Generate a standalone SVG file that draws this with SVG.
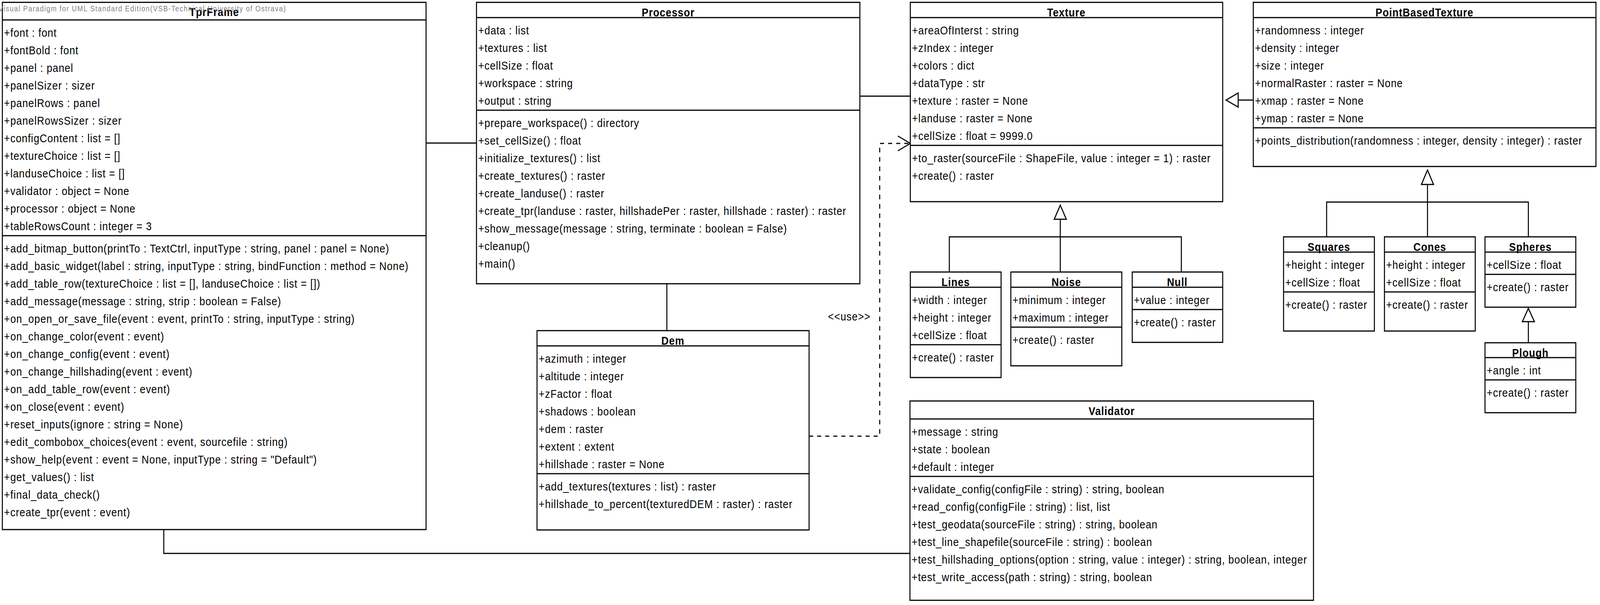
<svg xmlns="http://www.w3.org/2000/svg" width="4758" height="1548" viewBox="0 0 4758 1548" preserveAspectRatio="none">
<style>
svg{width:100vw;height:100vh}
.box{fill:#fff;stroke:#000;stroke-width:3}
.sep{stroke:#000;stroke-width:3}
.ln{fill:none;stroke:#000;stroke-width:3}
.dash{fill:none;stroke:#000;stroke-width:3;stroke-dasharray:12 12}
.tri{fill:#fff;stroke:#000;stroke-width:3;stroke-linejoin:miter}
text{font-family:"Liberation Sans",Arial,sans-serif;font-size:30px;letter-spacing:1.2px;fill:#000}
.ttl{font-weight:bold;text-anchor:middle}
.wm{font-size:20px;letter-spacing:1.9px;fill:#808080}
</style>
<rect x="0" y="0" width="4758" height="1548" fill="#fff"/>

<g id="connectors">
  <polyline class="ln" points="1267,366 1417,366"/>
  <polyline class="ln" points="2557,246 2707,246"/>
  <polyline class="ln" points="1983,726 1983,846"/>
  <polyline class="ln" points="487,1355 487,1416 2706,1416"/>
  <polyline class="dash" points="2406,1116 2616,1116 2616,367 2704,367"/>
  <polyline class="ln" points="2670,348 2707,367 2670,386"/>
  <text x="2462" y="820">&lt;&lt;use&gt;&gt;</text>
  <polyline class="ln" points="3727,256 3682,256"/>
  <polygon class="tri" points="3646,256 3682,238 3682,274"/>
  <polyline class="ln" points="3153,561 3153,696"/>
  <polyline class="ln" points="2823,696 2823,606 3513,606 3513,696"/>
  <polygon class="tri" points="3153,525 3135,561 3171,561"/>
  <polyline class="ln" points="4245,472 4245,606"/>
  <polyline class="ln" points="3945,606 3945,517 4545,517 4545,606"/>
  <polygon class="tri" points="4245,435 4227,472 4263,472"/>
  <polyline class="ln" points="4545,823 4545,877"/>
  <polygon class="tri" points="4545,789 4527,823 4563,823"/>
</g>

<g id="TprFrame">
  <rect class="box" x="7" y="6" width="1260" height="1349"/>
  <line class="sep" x1="7" y1="51" x2="1267" y2="51"/>
  <line class="sep" x1="7" y1="603" x2="1267" y2="603"/>
  <text class="ttl" x="637" y="41">TprFrame</text>
  <text x="12" y="94">+font : font</text>
  <text x="12" y="139">+fontBold : font</text>
  <text x="12" y="184">+panel : panel</text>
  <text x="12" y="229">+panelSizer : sizer</text>
  <text x="12" y="274">+panelRows : panel</text>
  <text x="12" y="319">+panelRowsSizer : sizer</text>
  <text x="12" y="364">+configContent : list = []</text>
  <text x="12" y="409">+textureChoice : list = []</text>
  <text x="12" y="454">+landuseChoice : list = []</text>
  <text x="12" y="499">+validator : object = None</text>
  <text x="12" y="544">+processor : object = None</text>
  <text x="12" y="589">+tableRowsCount : integer = 3</text>
  <text x="12" y="646">+add_bitmap_button(printTo : TextCtrl, inputType : string, panel : panel = None)</text>
  <text x="12" y="691">+add_basic_widget(label : string, inputType : string, bindFunction : method = None)</text>
  <text x="12" y="736">+add_table_row(textureChoice : list = [], landuseChoice : list = [])</text>
  <text x="12" y="781">+add_message(message : string, strip : boolean = False)</text>
  <text x="12" y="826">+on_open_or_save_file(event : event, printTo : string, inputType : string)</text>
  <text x="12" y="871">+on_change_color(event : event)</text>
  <text x="12" y="916">+on_change_config(event : event)</text>
  <text x="12" y="961">+on_change_hillshading(event : event)</text>
  <text x="12" y="1006">+on_add_table_row(event : event)</text>
  <text x="12" y="1051">+on_close(event : event)</text>
  <text x="12" y="1096">+reset_inputs(ignore : string = None)</text>
  <text x="12" y="1141">+edit_combobox_choices(event : event, sourcefile : string)</text>
  <text x="12" y="1186">+show_help(event : event = None, inputType : string = "Default")</text>
  <text x="12" y="1231">+get_values() : list</text>
  <text x="12" y="1276">+final_data_check()</text>
  <text x="12" y="1321">+create_tpr(event : event)</text>
</g>

<g id="Processor">
  <rect class="box" x="1417" y="6" width="1140" height="720"/>
  <line class="sep" x1="1417" y1="45" x2="2557" y2="45"/>
  <line class="sep" x1="1417" y1="282" x2="2557" y2="282"/>
  <text class="ttl" x="1987" y="42">Processor</text>
  <text x="1422" y="88">+data : list</text>
  <text x="1422" y="133">+textures : list</text>
  <text x="1422" y="178">+cellSize : float</text>
  <text x="1422" y="223">+workspace : string</text>
  <text x="1422" y="268">+output : string</text>
  <text x="1422" y="325">+prepare_workspace() : directory</text>
  <text x="1422" y="370">+set_cellSize() : float</text>
  <text x="1422" y="415">+initialize_textures() : list</text>
  <text x="1422" y="460">+create_textures() : raster</text>
  <text x="1422" y="505">+create_landuse() : raster</text>
  <text x="1422" y="550">+create_tpr(landuse : raster, hillshadePer : raster, hillshade : raster) : raster</text>
  <text x="1422" y="595">+show_message(message : string, terminate : boolean = False)</text>
  <text x="1422" y="640">+cleanup()</text>
  <text x="1422" y="685">+main()</text>
</g>

<g id="Dem">
  <rect class="box" x="1597" y="846" width="809" height="510"/>
  <line class="sep" x1="1597" y1="885" x2="2406" y2="885"/>
  <line class="sep" x1="1597" y1="1212" x2="2406" y2="1212"/>
  <text class="ttl" x="2001" y="882">Dem</text>
  <text x="1602" y="928">+azimuth : integer</text>
  <text x="1602" y="973">+altitude : integer</text>
  <text x="1602" y="1018">+zFactor : float</text>
  <text x="1602" y="1063">+shadows : boolean</text>
  <text x="1602" y="1108">+dem : raster</text>
  <text x="1602" y="1153">+extent : extent</text>
  <text x="1602" y="1198">+hillshade : raster = None</text>
  <text x="1602" y="1255">+add_textures(textures : list) : raster</text>
  <text x="1602" y="1300">+hillshade_to_percent(texturedDEM : raster) : raster</text>
</g>

<g id="Texture">
  <rect class="box" x="2707" y="6" width="929" height="510"/>
  <line class="sep" x1="2707" y1="45" x2="3636" y2="45"/>
  <line class="sep" x1="2707" y1="372" x2="3636" y2="372"/>
  <text class="ttl" x="3171" y="42">Texture</text>
  <text x="2712" y="88">+areaOfInterst : string</text>
  <text x="2712" y="133">+zIndex : integer</text>
  <text x="2712" y="178">+colors : dict</text>
  <text x="2712" y="223">+dataType : str</text>
  <text x="2712" y="268">+texture : raster = None</text>
  <text x="2712" y="313">+landuse : raster = None</text>
  <text x="2712" y="358">+cellSize : float = 9999.0</text>
  <text x="2712" y="415">+to_raster(sourceFile : ShapeFile, value : integer = 1) : raster</text>
  <text x="2712" y="460">+create() : raster</text>
</g>

<g id="PointBasedTexture">
  <rect class="box" x="3727" y="6" width="1019" height="420"/>
  <line class="sep" x1="3727" y1="45" x2="4746" y2="45"/>
  <line class="sep" x1="3727" y1="327" x2="4746" y2="327"/>
  <text class="ttl" x="4236" y="42">PointBasedTexture</text>
  <text x="3732" y="88">+randomness : integer</text>
  <text x="3732" y="133">+density : integer</text>
  <text x="3732" y="178">+size : integer</text>
  <text x="3732" y="223">+normalRaster : raster = None</text>
  <text x="3732" y="268">+xmap : raster = None</text>
  <text x="3732" y="313">+ymap : raster = None</text>
  <text x="3732" y="370">+points_distribution(randomness : integer, density : integer) : raster</text>
</g>

<g id="Lines">
  <rect class="box" x="2707" y="696" width="270" height="270"/>
  <line class="sep" x1="2707" y1="735" x2="2977" y2="735"/>
  <line class="sep" x1="2707" y1="882" x2="2977" y2="882"/>
  <text class="ttl" x="2842" y="732">Lines</text>
  <text x="2712" y="778">+width : integer</text>
  <text x="2712" y="823">+height : integer</text>
  <text x="2712" y="868">+cellSize : float</text>
  <text x="2712" y="925">+create() : raster</text>
</g>

<g id="Noise">
  <rect class="box" x="3006" y="696" width="330" height="240"/>
  <line class="sep" x1="3006" y1="735" x2="3336" y2="735"/>
  <line class="sep" x1="3006" y1="837" x2="3336" y2="837"/>
  <text class="ttl" x="3171" y="732">Noise</text>
  <text x="3011" y="778">+minimum : integer</text>
  <text x="3011" y="823">+maximum : integer</text>
  <text x="3011" y="880">+create() : raster</text>
</g>

<g id="Null">
  <rect class="box" x="3367" y="696" width="269" height="180"/>
  <line class="sep" x1="3367" y1="735" x2="3636" y2="735"/>
  <line class="sep" x1="3367" y1="792" x2="3636" y2="792"/>
  <text class="ttl" x="3501" y="732">Null</text>
  <text x="3372" y="778">+value : integer</text>
  <text x="3372" y="835">+create() : raster</text>
</g>

<g id="Squares">
  <rect class="box" x="3817" y="606" width="270" height="241"/>
  <line class="sep" x1="3817" y1="645" x2="4087" y2="645"/>
  <line class="sep" x1="3817" y1="747" x2="4087" y2="747"/>
  <text class="ttl" x="3952" y="642">Squares</text>
  <text x="3822" y="688">+height : integer</text>
  <text x="3822" y="733">+cellSize : float</text>
  <text x="3822" y="790">+create() : raster</text>
</g>

<g id="Cones">
  <rect class="box" x="4117" y="606" width="270" height="241"/>
  <line class="sep" x1="4117" y1="645" x2="4387" y2="645"/>
  <line class="sep" x1="4117" y1="747" x2="4387" y2="747"/>
  <text class="ttl" x="4252" y="642">Cones</text>
  <text x="4122" y="688">+height : integer</text>
  <text x="4122" y="733">+cellSize : float</text>
  <text x="4122" y="790">+create() : raster</text>
</g>

<g id="Spheres">
  <rect class="box" x="4416" y="606" width="270" height="180"/>
  <line class="sep" x1="4416" y1="645" x2="4686" y2="645"/>
  <line class="sep" x1="4416" y1="702" x2="4686" y2="702"/>
  <text class="ttl" x="4551" y="642">Spheres</text>
  <text x="4421" y="688">+cellSize : float</text>
  <text x="4421" y="745">+create() : raster</text>
</g>

<g id="Plough">
  <rect class="box" x="4416" y="877" width="270" height="179"/>
  <line class="sep" x1="4416" y1="915" x2="4686" y2="915"/>
  <line class="sep" x1="4416" y1="972" x2="4686" y2="972"/>
  <text class="ttl" x="4551" y="913">Plough</text>
  <text x="4421" y="958">+angle : int</text>
  <text x="4421" y="1015">+create() : raster</text>
</g>

<g id="Validator">
  <rect class="box" x="2706" y="1026" width="1200" height="510"/>
  <line class="sep" x1="2706" y1="1072" x2="3906" y2="1072"/>
  <line class="sep" x1="2706" y1="1219" x2="3906" y2="1219"/>
  <text class="ttl" x="3306" y="1062">Validator</text>
  <text x="2711" y="1115">+message : string</text>
  <text x="2711" y="1160">+state : boolean</text>
  <text x="2711" y="1205">+default : integer</text>
  <text x="2711" y="1262">+validate_config(configFile : string) : string, boolean</text>
  <text x="2711" y="1307">+read_config(configFile : string) : list, list</text>
  <text x="2711" y="1352">+test_geodata(sourceFile : string) : string, boolean</text>
  <text x="2711" y="1397">+test_line_shapefile(sourceFile : string) : boolean</text>
  <text x="2711" y="1442">+test_hillshading_options(option : string, value : integer) : string, boolean, integer</text>
  <text x="2711" y="1487">+test_write_access(path : string) : string, boolean</text>
</g>

<g id="watermark">
  <text class="wm" x="-4" y="29">Visual Paradigm for UML Standard Edition(VSB-Technical University of Ostrava)</text>
</g>
</svg>
